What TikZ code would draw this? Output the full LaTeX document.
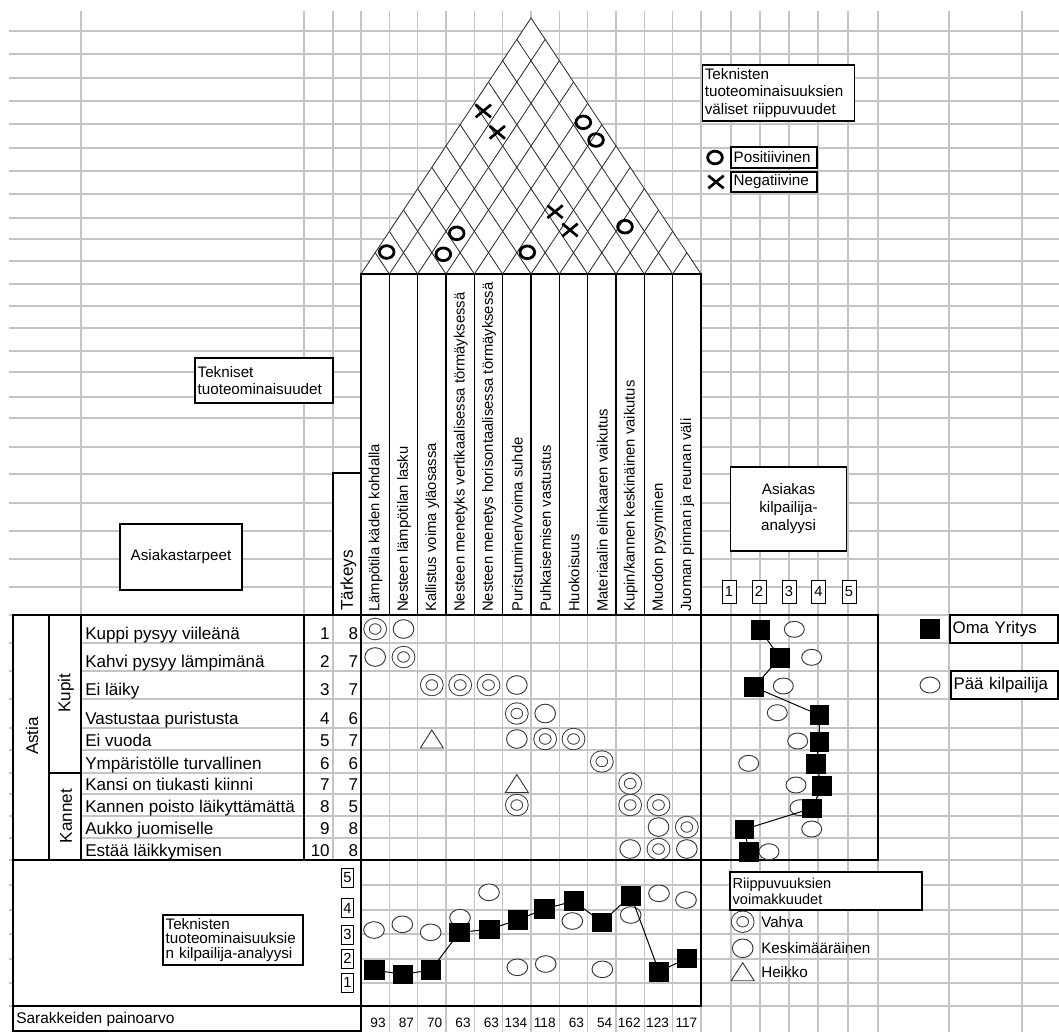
\documentclass[tikz,border=0pt]{standalone}
\usepackage{fontspec}
\setmainfont{Liberation Sans}
\usetikzlibrary{shapes.geometric,shapes.misc}
\definecolor{gridgray}{RGB}{196,196,196}
\definecolor{symgray}{RGB}{55,55,55}
\begin{document}
\begin{tikzpicture}[x=0.75pt,y=-0.75pt,
  gridline/.style={draw=gridgray,line width=0.8pt},
  frame/.style={draw=black,line width=1.05pt},
  rib/.style={draw=black!85,line width=0.6pt},
  lbl/.style={draw=black,fill=white,line width=0.8pt,inner xsep=2pt,inner ysep=1pt,outer sep=0pt,align=left,font=\fontsize{11.4}{13.2}\selectfont},
  need/.style={anchor=base west,inner sep=0pt,font=\fontsize{12.8}{14}\selectfont},
  numr/.style={anchor=base east,inner sep=0pt,font=\fontsize{12.8}{14}\selectfont},
  head/.style={rotate=90,anchor=west,inner sep=0pt,font=\fontsize{11.1}{13}\selectfont},
  strong/.style={ellipse,draw=symgray,fill=white,line width=0.7pt,double=white,double distance=3.3pt,minimum width=13pt,minimum height=12pt,inner sep=0pt},
  medium/.style={ellipse,draw=symgray,fill=white,line width=0.7pt,minimum width=15.5pt,minimum height=14pt,inner sep=0pt},
  weak/.style={draw=symgray,fill=white,line width=0.7pt},
  roofo/.style={ellipse,draw=black,line width=2.1pt,minimum width=11pt,minimum height=9.5pt,inner sep=0pt},
  roofx/.style={cross out,draw=black,line width=2pt,minimum width=9.5pt,minimum height=7.5pt,inner sep=0pt},
  ownsq/.style={rectangle,fill=black,draw=black,minimum width=14pt,minimum height=14pt,inner sep=0pt},
  rival/.style={ellipse,draw=symgray,fill=white,line width=0.7pt,minimum width=15pt,minimum height=12pt,inner sep=0pt},
  scalebox/.style={draw=black,fill=white,line width=0.7pt,inner sep=0.5pt,font=\fontsize{11}{12}\selectfont},
  trend/.style={draw=black,line width=0.75pt}
]
% page
\fill[white] (0,0) rectangle (1059,1032);
\useasboundingbox (0,0) rectangle (1059,1032);

% spreadsheet grid
\foreach \x in {81,304,333,361,389.33,417.67,446,474.33,502.67,531,559.33,587.67,616,644.33,672.67,701,731,760,789,818,848,878,949,1022}
  \draw[gridline] (\x,11) -- (\x,1032);
\foreach \y in {31,54,78,101,124,148,171,194,218,239,261,284,306,328,351,372,397,418,447,474,503,531,559,587,615,643,671,699,728,750,773,794,816,838,860,885,910,934,959,983,1006}
  \draw[gridline] (9,\y) -- (1059,\y);

% roof: correlation triangle
\draw[rib,fill=white] (361,274) -- (531,18) -- (701,274) -- cycle;
\foreach \i in {1,...,11} {
  \pgfmathsetmacro\xb{361+340*\i/12}
  \pgfmathsetmacro\xr{\xb+170*(12-\i)/12}
  \pgfmathsetmacro\yr{274-256*(12-\i)/12}
  \pgfmathsetmacro\xl{361+170*\i/12}
  \pgfmathsetmacro\yl{274-256*\i/12}
  \draw[rib] (\xb,274) -- (\xr,\yr);
  \draw[rib] (\xb,274) -- (\xl,\yl);
}
\node[roofo] (ro1) at (386.7,252) {};
\node[roofo] (ro2) at (443.3,254.3) {};
\node[roofo] (ro3) at (456.7,233.3) {};
\node[roofo] (ro4) at (527.3,252.3) {};
\node[roofo] (ro5) at (625,226.7) {};
\node[roofo] (ro6) at (583.3,122.3) {};
\node[roofo] (ro7) at (596,140) {};
\node[roofx] (rx1) at (483.3,111) {};
\node[roofx] (rx2) at (497.3,132.3) {};
\node[roofx] (rx3) at (555,211.7) {};
\node[roofx] (rx4) at (570,230) {};

% roof legend
\node[lbl,minimum height=42pt,text width=110.5pt] (riipp) at (778.5,93)
  {Teknisten\\tuoteominaisuuksien\\väliset riippuvuudet};
\node[roofo] (legO) at (715,157.5) {};
\node[lbl,minimum height=15.75pt,text width=60.5pt,inner ysep=0pt] (posit) at (774,157.5) {Positiivinen};
\node[roofx] (legX) at (716,182) {};
\node[lbl,minimum height=15pt,text width=60.5pt,inner ysep=0pt] (negat) at (774,182) {Negatiivine};

% technical characteristics header
\draw[frame,fill=white] (361,274) rectangle (701,615);
\foreach \k in {1,...,11}
  \draw[frame] ({361+340*\k/12},274) -- ({361+340*\k/12},615);
\foreach \k/\t in {1/{Lämpötila käden kohdalla},
                   2/{Nesteen lämpötilan lasku},
                   3/{Kallistus voima yläosassa},
                   4/{Nesteen menetyks vertikaalisessa törmäyksessä},
                   5/{Nesteen menetys horisontaalisessa törmäyksessä},
                   6/{Puristuminen/voima suhde},
                   7/{Puhkaisemisen vastustus},
                   8/{Huokoisuus},
                   9/{Materiaalin elinkaaren vaikutus},
                   10/{Kupin/kannen keskinäinen vaikutus},
                   11/{Muodon pysyminen},
                   12/{Juoman pinnan ja reunan väli}}
  \node[head] (h\k) at ({361+340*(\k-0.5)/12+0.5},612) {\t};

\node[lbl,minimum height=33.75pt,text width=99.5pt] (tekn) at (264,380.5) {Tekniset\\tuoteominaisuudet};

% importance column head
\draw[frame,fill=white] (333,473) rectangle (361,615);
\node[rotate=90,anchor=west,inner sep=0pt,font=\fontsize{12.8}{14}\selectfont] (tark) at (348.5,611) {Tärkeys};

\node[lbl,align=center,minimum height=49.5pt,text width=87.5pt] (astarp) at (181,557) {Asiakastarpeet};

% customer needs block
\draw[frame,fill=white] (13,615) rectangle (49,860);
\draw[frame,fill=white] (49,615) rectangle (81,773);
\draw[frame,fill=white] (49,773) rectangle (81,860);
\node[rotate=90,inner sep=0pt,font=\fontsize{12.8}{14}\selectfont] (astia) at (32,736) {Astia};
\node[rotate=90,inner sep=0pt,font=\fontsize{12.8}{14}\selectfont] (kupit) at (66,693) {Kupit};
\node[rotate=90,inner sep=0pt,font=\fontsize{12.8}{14}\selectfont] (kannet) at (66,816) {Kannet};
\draw[frame] (13,615) -- (878,615);
\draw[frame] (13,860) -- (878,860);
\draw[frame] (304,615) -- (304,860);

\foreach \n/\yb/\t/\w in {1/643/{Kuppi pysyy viileänä}/8,
                          2/671/{Kahvi pysyy lämpimänä}/7,
                          3/699/{Ei läiky}/7,
                          4/728/{Vastustaa puristusta}/6,
                          5/750/{Ei vuoda}/7,
                          6/773/{Ympäristölle turvallinen}/6,
                          7/794/{Kansi on tiukasti kiinni}/7,
                          8/816/{Kannen poisto läikyttämättä}/5,
                          9/838/{Aukko juomiselle}/8,
                          10/860/{Estää läikkymisen}/8} {
  \node[need] (need\n) at (85,\yb-3.5) {\t};
  \node[numr] (nr\n) at (330,\yb-3.5) {\n};
  \node[numr] (imp\n) at (358.5,\yb-3.5) {\w};
}

% relationship matrix
\foreach \c/\r in {1/1,2/2,3/3,4/3,5/3,6/4,7/5,8/5,9/6,10/7,6/8,10/8,11/8,12/9,11/10} {
  \pgfmathsetmacro\yy{{629,657,685,713.5,739,761.5,783.5,805,827,849}[\r-1]}
  \node[strong] (ms-\c-\r) at ({361+340*(\c-0.5)/12},\yy) {};
}
\foreach \c/\r in {2/1,1/2,6/3,7/4,6/5,11/9,10/10,12/10} {
  \pgfmathsetmacro\yy{{629,657,685,713.5,739,761.5,783.5,805,827,849}[\r-1]}
  \node[medium] (mm-\c-\r) at ({361+340*(\c-0.5)/12},\yy) {};
}
\foreach \c/\r in {3/5,6/7} {
  \pgfmathsetmacro\yy{{629,657,685,713.5,739,761.5,783.5,805,827,849}[\r-1]}
  \pgfmathsetmacro\xx{361+340*(\c-0.5)/12}
  \draw[weak] (\xx,\yy) ++(-11.5,9) -- ++(23,0) -- ++(-11.5,-18) -- cycle;
}

% customer competitive assessment
\node[lbl,align=center,minimum height=63pt,text width=83.5pt,font=\fontsize{11.4}{13.5}\selectfont] (akil) at (788.5,509)
  {Asiakas\\kilpailija-\\analyysi};
\foreach \v/\x in {1/729,2/759,3/789,4/818.5,5/849}
  \node[scalebox,minimum width=10.5pt,minimum height=17.25pt] (cs\v) at (\x,591.5) {\v};
\draw[frame] (701,615) rectangle (878,860);
\foreach \n/\x/\y in {1/794.3/629.3,2/811.7/657.3,3/783.3/686,4/777.3/712.7,5/797.7/741,
                      6/748.7/763.3,7/796/785,8/800/807.7,9/811.7/829,10/769/851.7}
  \node[rival] (cr\n) at (\x,\y) {};
\foreach \n/\x/\y in {1/760.3/630,2/780/657.7,3/754/687,4/819.3/715,5/819.3/741.7,
                      6/816/764,7/822/786,8/812/808.3,9/744.3/829.3,10/749/851.7}
  \node[ownsq] (co\n) at (\x,\y) {};
\draw[trend] (co1) -- (co2) -- (co3) -- (co4) -- (co5) -- (co6) -- (co7) -- (co8) -- (co9) -- (co10);

% company legend
\node[ownsq,minimum width=14.5pt,minimum height=14.5pt] (legown) at (930,628.5) {};
\node[lbl,minimum height=21pt,text width=77pt,font=\fontsize{12.6}{14}\selectfont] (oma) at (1004,629) {Oma Yritys};
\node[rival] (legriv) at (930,685) {};
\node[lbl,minimum height=21pt,text width=76.25pt,font=\fontsize{12.6}{14}\selectfont] (paa) at (1004.5,685) {Pää kilpailija};

% technical competitive assessment
\fill[white] (13,860) rectangle (361,1006);
\draw[frame] (13,860) rectangle (701,1006);
\draw[frame,fill=white] (13,1006) rectangle (361,1031);
\draw[frame] (361,274) -- (361,1031);
\draw[frame] (701,274) -- (701,1006);
\foreach \v/\y in {5/877.5,4/908,3/934.5,2/958.5,1/982.5}
  \node[scalebox,minimum width=9pt,minimum height=14.25pt] (ts\v) at (347.5,\y) {\v};
\node[lbl,minimum height=37.5pt,text width=101pt,font=\fontsize{11.4}{10.9}\selectfont] (tkil) at (233,940)
  {Teknisten\\tuoteominaisuuksie\\n kilpailija-analyysi};
\foreach \n/\x/\y in {1/374/930,2/402.3/924.3,3/430.7/932.3,4/460/917.7,5/489/892.3,6/517.3/967.3,
                      7/545.7/964,8/572.3/921,9/602.3/969.3,10/630.7/915,11/659/893.3,12/686/900}
  \node[rival,minimum width=15.5pt,minimum height=12.5pt] (tr\n) at (\x,\y) {};
\foreach \n/\x/\y in {1/374.3/970,2/402.7/974.3,3/431/970,4/459.3/932.3,5/489.3/929.3,6/517.7/920,
                      7/544.3/909,8/574/901,9/601.7/922.3,10/631/895.7,11/659/971.7,12/686.7/958.3}
  \node[ownsq,minimum width=14.5pt,minimum height=14pt] (to\n) at (\x,\y) {};
\draw[trend] (to1) -- (to2) -- (to3) -- (to4) -- (to5) -- (to6) -- (to7) -- (to8) -- (to9) -- (to10) -- (to11) -- (to12);

% column weights
\node[anchor=base west,inner sep=0pt,font=\fontsize{11.6}{13}\selectfont] (sarak) at (16,1023) {Sarakkeiden painoarvo};
\foreach \k/\v in {1/93,2/87,3/70,4/63,5/63,6/134,7/118,8/63,9/54,10/162,11/123,12/117}
  \node[anchor=base east,inner sep=0pt,font=\fontsize{10.2}{12}\selectfont] (w\k) at ({361+340*\k/12-3.5},1027.5) {\v};

% relationship strength legend
\node[lbl,minimum height=28.5pt,text width=140pt,font=\fontsize{10.9}{11.8}\selectfont] (voim) at (826,891)
  {Riippuvuuksien\\voimakkuudet};
\node[strong] (lgs) at (742.7,921.7) {};
\node[anchor=west,inner sep=0pt,font=\fontsize{11.4}{13}\selectfont] (vahva) at (761,922) {Vahva};
\node[medium] (lgm) at (742.7,948.3) {};
\node[anchor=west,inner sep=0pt,font=\fontsize{11.4}{13}\selectfont] (keski) at (761,948.5) {Keskimääräinen};
\coordinate (lgw) at (742.7,971.7);
\draw[weak] (lgw) ++(-11.5,9) -- ++(23,0) -- ++(-11.5,-18) -- cycle;
\node[anchor=west,inner sep=0pt,font=\fontsize{11.4}{13}\selectfont] (heikko) at (761,972) {Heikko};
\end{tikzpicture}
\end{document}
